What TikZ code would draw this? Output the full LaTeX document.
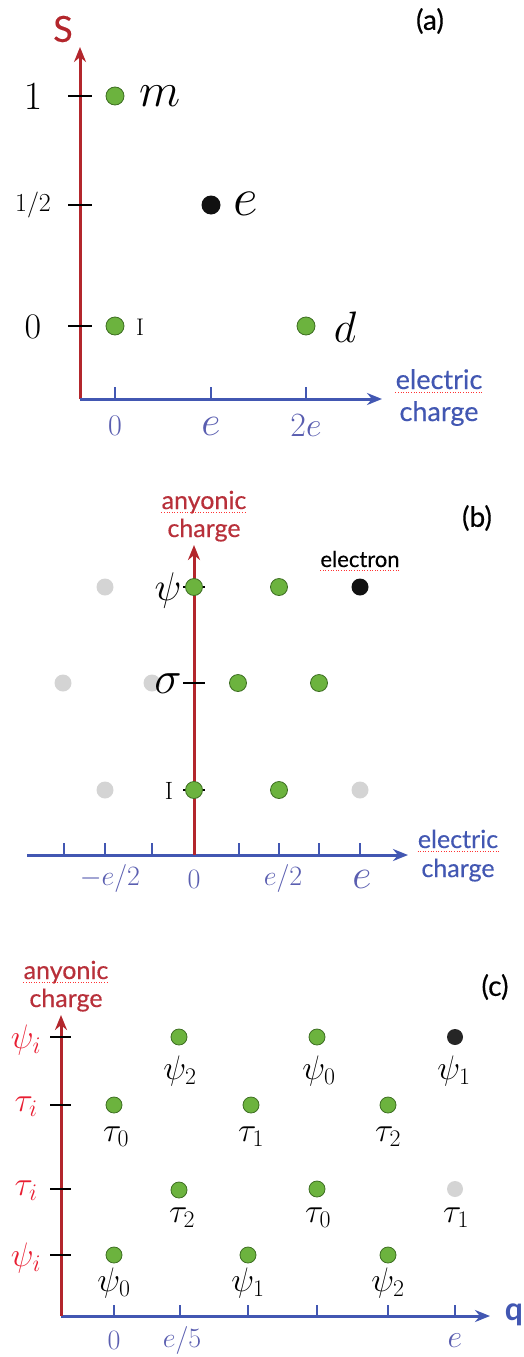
\RequirePackage{fix-cm}
\documentclass[tikz,border=0pt]{standalone}
\usepackage{fontspec}
\newfontfamily\gill[FakeBold=0.4]{Lato}
\newfontfamily\gillb{Lato}[BoldFont={* Bold}]
\usetikzlibrary{arrows.meta,calc}
\definecolor{axred}{HTML}{B3262C}
\definecolor{txred}{HTML}{B8303A}
\definecolor{brred}{HTML}{E81E32}
\definecolor{axblue}{HTML}{4257B2}
\definecolor{lbblue}{HTML}{5A5EB0}
\definecolor{dgreen}{HTML}{6CB33E}
\definecolor{dgreenedge}{HTML}{3D6E22}
\definecolor{dgray}{HTML}{D4D4D4}
\definecolor{dblack}{HTML}{111111}
\tikzset{
  axR/.style={draw=axred, line width=3pt, -{Stealth[length=15pt,width=12pt]}},
  axB/.style={draw=axblue, line width=3pt, -{Stealth[length=15pt,width=12pt]}},
  tickB/.style={draw=axblue, line width=2.6pt},
  tickK/.style={draw=black, line width=1.5pt},
  gdot/.style={circle, fill=dgreen, draw=dgreenedge, line width=0.8pt, minimum size=#1, inner sep=0pt},
  kdot/.style={circle, fill=dblack, minimum size=#1, inner sep=0pt},
  ydot/.style={circle, fill=dgray, minimum size=#1, inner sep=0pt},
  fs/.style={font=\fontsize{#1}{#1}\selectfont},
  sf/.style={font=\gill\fontsize{#1}{#1}\selectfont},
  lab/.style={inner sep=0pt},
  squig/.style={draw=red!80, line width=0.6pt, dotted},
}
\begin{document}
\begin{tikzpicture}[x=1pt,y=-1pt]
\useasboundingbox (0,0) rectangle (523,1357);
% ================= panel (a) =================
\coordinate (aO) at (80,399);
\coordinate (aY) at (80,47);
\coordinate (aX) at (382,399);
\draw[axR] (aO) -- (aY);
\draw[axB] (aO) -- (aX);
\node[lab, sf=36, text=axred] (aS) at (63,29) {S};
\node[lab, sf=28] (alab) at (430,21) {(a)};
\foreach \x/\n in {115/a0,211/a1,306/a2}{
  \coordinate (\n t) at (\x,387); \coordinate (\n b) at (\x,399);
  \draw[tickB] (\n t) -- (\n b);
}
\foreach \y/\n in {96/ay1,205/ay2,326/ay3}{
  \coordinate (\n l) at (68,\y); \coordinate (\n r) at (92,\y);
  \draw[tickK] (\n l) -- (\n r);
}
\node[lab, fs=40] (ay1lab) at (33,97) {$1$};
\node[lab, fs=26] (ay2lab) at (33,205) {$1/2$};
\node[lab, fs=36] (ay3lab) at (33,327) {$0$};
\node[lab, fs=30, text=lbblue] (ax0) at (115,426) {$0$};
\node[lab, fs=42, text=lbblue] (ax1) at (211,426) {$e$};
\node[lab, fs=34, text=lbblue] (ax2) at (306,426) {$2e$};
\node[lab, sf=27, text=axblue, anchor=base] (aelec) at (439,389) {electric};
\node[lab, sf=27, text=axblue, anchor=base] (acharge) at (439,421) {charge};
\node[gdot=18pt] (am) at (115,96) {};
\node[kdot=19pt] (ae) at (211,205) {};
\node[gdot=18pt] (aI) at (115,326) {};
\node[gdot=18pt] (ad) at (306,326) {};
\node[lab, fs=48] (aml) at (160,96) {$m$};
\node[lab, fs=54] (ael) at (246,204) {$e$};
\node[lab, fs=24] (aIl) at (140,327) {I};
\node[lab, fs=44] (adl) at (345,327) {$d$};
% ================= panel (b) =================
\coordinate (bO) at (194,855);
\coordinate (bY) at (194,545);
\coordinate (bL) at (27,855);
\coordinate (bX) at (408,855);
\draw[axB] (bL) -- (bX);
\node[lab, sf=25, text=txred, anchor=base] (banyonic) at (204,509) {anyonic};
\node[lab, sf=25, text=txred, anchor=base] (bcharge) at (204,537) {charge};
\node[lab, sf=28] (blab) at (477,518) {(b)};
\node[lab, sf=22, anchor=base] (belectron) at (360,567) {electron};
\foreach \x/\n in {64/b1,105/b2,152/b3,239/b4,279/b5,319/b6,360/b7}{
  \coordinate (\n t) at (\x,843); \coordinate (\n b) at (\x,855);
  \draw[tickB] (\n t) -- (\n b);
}
\draw[axR] (bO) -- (bY);
\foreach \y/\n in {587/by1,683/by2,790/by3}{
  \coordinate (\n l) at (183,\y); \coordinate (\n r) at (205,\y);
  \draw[tickK] (\n l) -- (\n r);
}
\node[lab, fs=28, text=lbblue] (bx1) at (110,878) {$-e/2$};
\node[lab, fs=28, text=lbblue] (bx2) at (194,879) {$0$};
\node[lab, fs=28, text=lbblue] (bx3) at (283,878) {$e/2$};
\node[lab, fs=42, text=lbblue] (bx4) at (362,879) {$e$};
\node[lab, sf=25, text=axblue, anchor=base] (belec) at (458,848) {electric};
\node[lab, sf=25, text=axblue, anchor=base] (bchg) at (458,877) {charge};
\node[ydot=17pt] (b11) at (105,587) {};
\node[gdot=17pt] (b12) at (194,587) {};
\node[gdot=17pt] (b13) at (279,587) {};
\node[kdot=17pt] (b14) at (360,587) {};
\node[ydot=17pt] (b21) at (63,683) {};
\node[ydot=17pt] (b22) at (152,683) {};
\node[gdot=17pt] (b23) at (238,683) {};
\node[gdot=17pt] (b24) at (319,683) {};
\node[ydot=17pt] (b31) at (105,790) {};
\node[gdot=17pt] (b32) at (194,790) {};
\node[gdot=17pt] (b33) at (279,790) {};
\node[ydot=17pt] (b34) at (360,790) {};
\node[lab, fs=40] (bpsi) at (168,590) {$\psi$};
\node[lab, fs=46] (bsig) at (168,684) {$\sigma$};
\node[lab, fs=25] (bI) at (169,791) {I};
\draw[squig] ($(aelec.base west)+(0,3)$) -- ($(aelec.base east)+(0,3)$);
\draw[squig] ($(banyonic.base west)+(0,3)$) -- ($(banyonic.base east)+(0,3)$);
\draw[squig] ($(belectron.base west)+(0,3)$) -- ($(belectron.base east)+(0,3)$);
\draw[squig] ($(belec.base west)+(0,3)$) -- ($(belec.base east)+(0,3)$);
% ================= panel (c) =================
\coordinate (cO) at (61,1316);
\coordinate (cY) at (61,1015);
\coordinate (cX) at (490,1316);
\node[lab, sf=25, text=txred, anchor=base] (canyonic) at (66,979) {anyonic};
\node[lab, sf=25, text=txred, anchor=base] (ccharge) at (66,1007) {charge};
\draw[squig] ($(canyonic.base west)+(0,3)$) -- ($(canyonic.base east)+(0,3)$);
\node[lab, sf=28] (clab) at (495,987) {(c)};
\foreach \x/\n in {114/c1,180/c2,248/c3,317/c4,388/c5,455/c6}{
  \coordinate (\n t) at (\x,1305); \coordinate (\n b) at (\x,1316);
  \draw[tickB] (\n t) -- (\n b);
}
\draw[axB] (cO) -- (cX);
\draw[axR] (cO) -- (cY);
\node[lab, font=\gillb\bfseries\fontsize{32}{32}\selectfont, text=axblue] (cq) at (514,1315) {q};
\foreach \y/\n in {1037/cy1,1105/cy2,1189/cy3,1255/cy4}{
  \coordinate (\n l) at (50,\y); \coordinate (\n r) at (71,\y);
  \draw[tickK] (\n l) -- (\n r);
}
\node[lab, fs=34, text=brred] (cy1l) at (26,1040) {$\psi_i$};
\node[lab, fs=34, text=brred] (cy2l) at (26,1107) {$\tau_i$};
\node[lab, fs=34, text=brred] (cy3l) at (26,1191) {$\tau_i$};
\node[lab, fs=34, text=brred] (cy4l) at (26,1258) {$\psi_i$};
\node[lab, fs=28, text=lbblue] (cx1) at (114,1340) {$0$};
\node[lab, fs=28, text=lbblue] (cx2) at (182,1340) {$e/5$};
\node[lab, fs=32, text=lbblue] (cx3) at (455,1341) {$e$};
\node[gdot=16pt] (c11) at (179,1037) {};
\node[gdot=16pt] (c12) at (317,1037) {};
\node[kdot=16pt, fill=black!85] (c13) at (455,1037) {};
\node[lab, fs=34] at (180,1071) (c11l) {$\psi_2$};
\node[lab, fs=34] at (319,1071) (c12l) {$\psi_0$};
\node[lab, fs=34] at (454,1071) (c13l) {$\psi_1$};
\node[gdot=16pt] (c21) at (114,1105) {};
\node[gdot=16pt] (c22) at (251,1105) {};
\node[gdot=16pt] (c23) at (388,1105) {};
\node[lab, fs=34] at (116,1137) (c21l) {$\tau_0$};
\node[lab, fs=34] at (251,1137) (c22l) {$\tau_1$};
\node[lab, fs=34] at (388,1137) (c23l) {$\tau_2$};
\node[gdot=16pt] (c31) at (179,1190) {};
\node[gdot=16pt] (c32) at (317,1189) {};
\node[ydot=16pt] (c33) at (455,1189) {};
\node[lab, fs=34] at (182,1218) (c31l) {$\tau_2$};
\node[lab, fs=34] at (318,1218) (c32l) {$\tau_0$};
\node[lab, fs=34] at (456,1218) (c33l) {$\tau_1$};
\node[gdot=16pt] (c41) at (114,1255) {};
\node[gdot=16pt] (c42) at (248,1255) {};
\node[gdot=16pt] (c43) at (388,1255) {};
\node[lab, fs=34] at (114,1283) (c41l) {$\psi_0$};
\node[lab, fs=34] at (248,1283) (c42l) {$\psi_1$};
\node[lab, fs=34] at (388,1283) (c43l) {$\psi_2$};
\end{tikzpicture}
\end{document}
